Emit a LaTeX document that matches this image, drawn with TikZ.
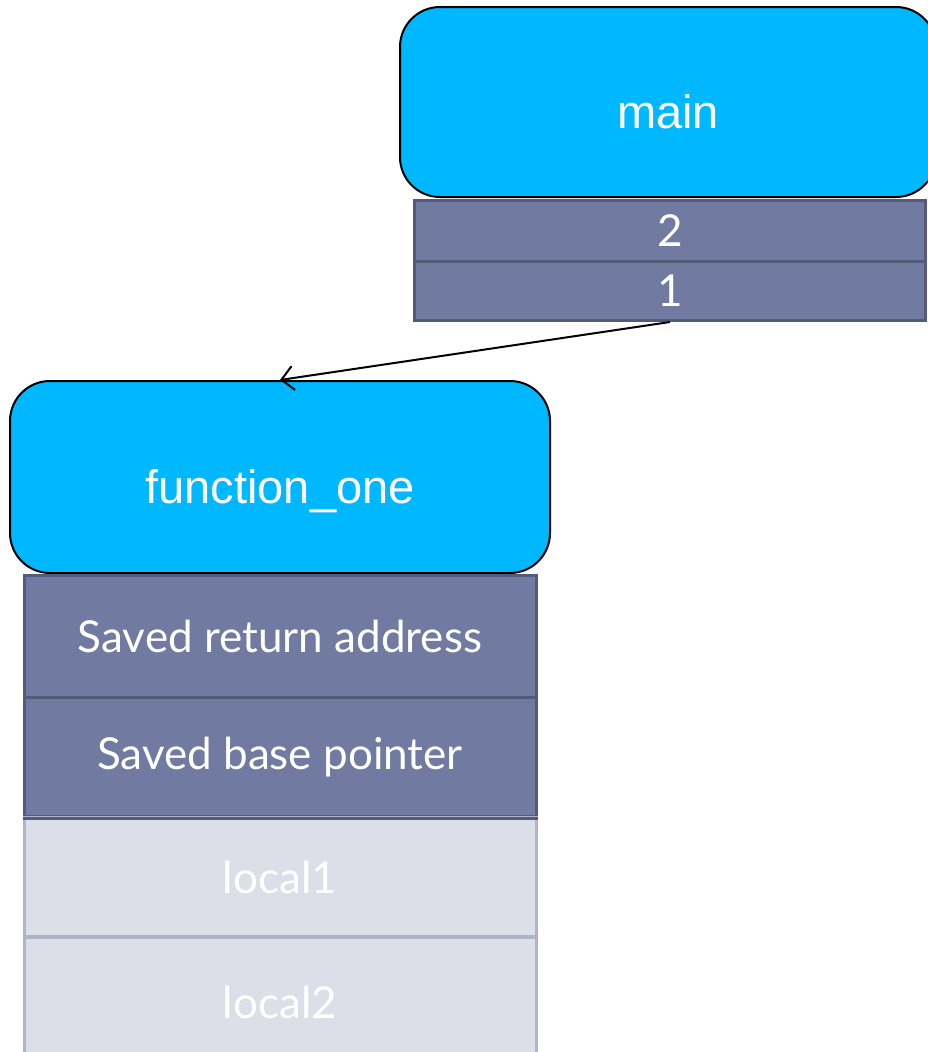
\documentclass[tikz,border=0pt]{standalone}
\usepackage{fontspec}
\setmainfont{Lato}
\newfontfamily\arialfont{Liberation Sans}
\usetikzlibrary{arrows.meta}
\definecolor{fnblue}{RGB}{0,184,255}
\definecolor{rowfill}{RGB}{113,122,160}
\definecolor{rowline}{RGB}{84,90,122}
\definecolor{lightfill}{RGB}{220,223,232}
\definecolor{lightline}{RGB}{176,180,200}
\newcommand{\lowtext}[2]{\raisebox{-#1}[0pt][0pt]{#2}}
\tikzset{
  frame/.style={draw=black, line width=2pt, fill=fnblue, rounded corners=40pt,
    text=white, font=\arialfont\fontsize{47}{56}\selectfont, inner sep=0pt},
  darkrow/.style={draw=rowline, line width=3pt, fill=rowfill, text=white,
    font=\fontsize{44}{52}\selectfont, inner sep=0pt},
  lightrow/.style={draw=lightline, line width=3pt, fill=lightfill, text=white,
    font=\fontsize{44}{52}\selectfont, inner sep=0pt},
  callarrow/.style={draw=black, line width=2pt, -{Straight Barb[length=12pt,width=24pt,line width=2pt]}}
}
\begin{document}
\begin{tikzpicture}[x=1pt,y=-1pt]
\useasboundingbox (0,0) rectangle (928,1052);
% main frame
\node[frame, minimum width=536pt, minimum height=190pt] (main) at (668,102) {\lowtext{26pt}{main}};
\node[darkrow, minimum width=511pt, minimum height=61pt] (two) at (670,231) {2};
\node[darkrow, minimum width=511pt, minimum height=59pt] (one) at (670,291) {1};
% function_one frame
\node[frame, minimum width=540pt, minimum height=192pt] (fone) at (280,477) {\lowtext{26pt}{function\_one}};
\node[darkrow, minimum width=512pt, minimum height=122pt] (ret) at (280,636) {Saved return address};
\node[darkrow, minimum width=512pt, minimum height=119pt] (bp) at (280,757) {Saved base pointer};
\node[lightrow, minimum width=512pt, minimum height=119pt] (l1) at (280,877) {local1};
\node[lightrow, minimum width=512pt, minimum height=130pt] (l2) at (280,1002) {local2};
% redraw border between saved base pointer and local1
\draw[rowline, line width=3pt] (bp.south west) -- (bp.south east);
% call arrow
\draw[callarrow] (one.south) -- (fone.north);
\end{tikzpicture}
\end{document}
